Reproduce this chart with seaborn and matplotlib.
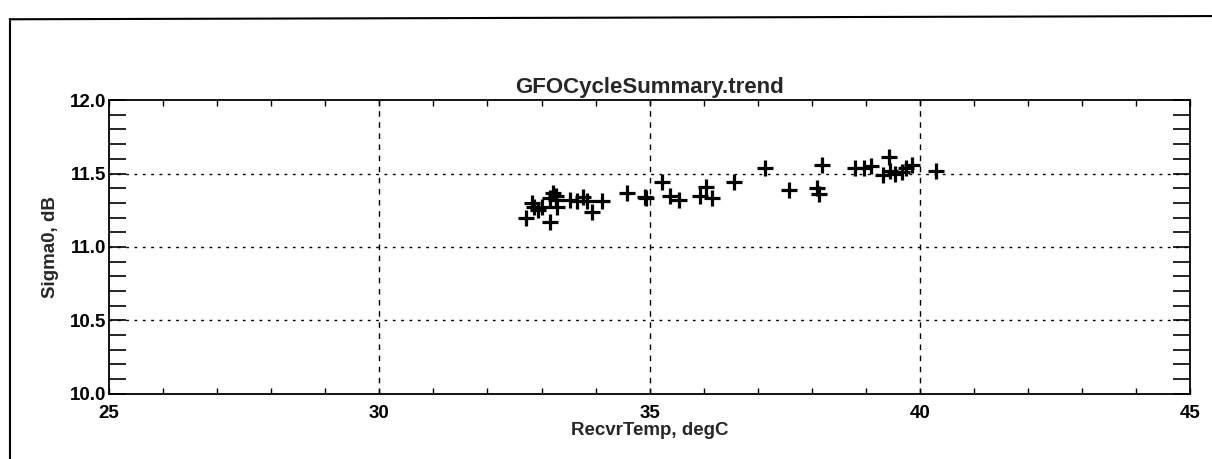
import numpy as np
import pandas as pd
import seaborn as sns
import matplotlib.pyplot as plt
from matplotlib.lines import Line2D
from matplotlib.ticker import MultipleLocator

# =============================
# DATA
# =============================

recvr_temp = [32.71, 32.82, 32.87, 32.93, 33.00, 33.15, 33.15, 33.21, 33.28, 33.26,
              33.26, 33.52, 33.65, 33.76, 33.85, 33.93, 34.11, 34.59, 34.91, 34.94,
              35.22, 35.37, 35.55, 35.94, 36.05, 36.15, 36.57, 37.13, 37.57, 38.09,
              38.14, 38.18, 38.79, 38.96, 39.10, 39.31, 39.42, 39.44, 39.53, 39.66,
              39.75, 39.86, 40.30]
sigma0 = [11.20, 11.30, 11.27, 11.25, 11.27, 11.17, 11.33, 11.37, 11.27, 11.32,
          11.35, 11.32, 11.31, 11.34, 11.31, 11.24, 11.31, 11.37, 11.34, 11.33,
          11.44, 11.35, 11.32, 11.35, 11.41, 11.33, 11.44, 11.54, 11.39, 11.40,
          11.36, 11.56, 11.54, 11.54, 11.55, 11.49, 11.61, 11.52, 11.50, 11.51,
          11.54, 11.56, 11.52]

x_ticks = [25, 30, 35, 40, 45]
y_ticks = [10.0, 10.5, 11.0, 11.5, 12.0]

df = pd.DataFrame({"RecvrTemp": recvr_temp, "Sigma0": sigma0})

# =============================
# PLOT
# =============================

sns.set_style("white")
plt.rcParams["font.family"] = ["Liberation Sans", "DejaVu Sans"]
plt.rcParams["font.weight"] = "bold"

fig = plt.figure(figsize=(12.12, 4.59), dpi=100)
ax = fig.add_axes([0.090, 0.142, 0.892, 0.640])

sns.scatterplot(data=df, x="RecvrTemp", y="Sigma0", ax=ax,
                marker="+", s=125, color="black", linewidth=2.3, legend=False)

ax.set_xlim(25, 45)
ax.set_ylim(10.0, 12.0)
ax.set_xticks(x_ticks)
ax.set_yticks(y_ticks)
ax.set_xticklabels([str(t) for t in x_ticks])
ax.set_yticklabels([f"{t:.1f}" for t in y_ticks])
ax.xaxis.set_minor_locator(MultipleLocator(1))
ax.yaxis.set_minor_locator(MultipleLocator(0.1))

ax.tick_params(axis="x", which="both", direction="in", top=True, bottom=True,
               length=4, width=1, labelsize=13.5, pad=8, colors="black")
ax.tick_params(axis="y", which="both", direction="in", left=True, right=True,
               length=12, width=1.2, labelsize=13.5, pad=2, colors="black")

for spine in ax.spines.values():
    spine.set_color("black")
    spine.set_linewidth(1.3)

# grid only on inner major positions
for xv in x_ticks[1:-1]:
    ax.axvline(xv, color="black", linestyle=(0, (4, 4)), linewidth=1, zorder=0)
for yv in y_ticks[1:-1]:
    ax.axhline(yv, color="black", linestyle=(0, (2, 4)), linewidth=1, zorder=0)

ax.set_title("GFOCycleSummary.trend", fontsize=16, fontweight="bold", pad=5)
ax.set_xlabel("RecvrTemp, degC", fontsize=13.5, fontweight="bold", labelpad=0)
ax.set_ylabel("Sigma0, dB", fontsize=13.5, fontweight="bold", labelpad=8)

# page frame from the scan
fig.add_artist(Line2D([0.008, 0.008], [0.0, 0.958], transform=fig.transFigure,
                      color="black", linewidth=1.5))
fig.add_artist(Line2D([0.008, 1.0], [0.958, 0.965], transform=fig.transFigure,
                      color="black", linewidth=1.5))

fig.savefig("out.png", dpi=100, facecolor="white")
